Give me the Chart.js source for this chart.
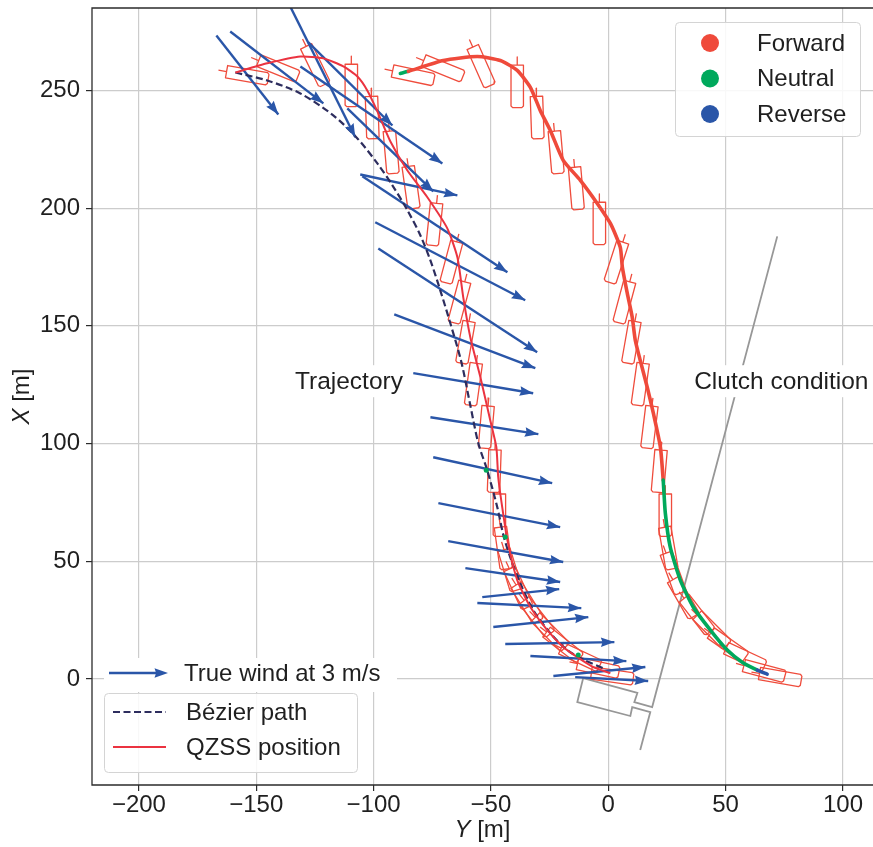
<!DOCTYPE html>
<html><head><meta charset="utf-8">
<script src="https://cdn.jsdelivr.net/npm/chart.js@4.4.1/dist/chart.umd.min.js"></script>
<style>html,body{margin:0;padding:0;background:#fff;overflow:hidden;}canvas{display:block;}</style>
</head><body>
<canvas id="c" width="873" height="847"></canvas>
<script>
// ---------- DATA (horizontal axis = Y [m], vertical axis = X [m]) ----------
const xTicks = [-200, -150, -100, -50, 0, 50, 100];
const yTicks = [0, 50, 100, 150, 200, 250];

// true wind arrows (start -> end)
const windFromY = [-136.8,-167.0,-161.1,-127.8,-131.2,-111.2,-105.7,-104.8,-99.3,-98.0,-91.2,-83.1,-75.8,-74.6,-72.4,-68.2,-60.9,-53.7,-55.8,-49.0,-43.9,-33.2,-23.4,-14.1];
const windFromX = [288.2,273.3,275.0,270.4,260.2,242.4,214.3,213.5,194.0,182.9,154.9,129.9,111.2,94.2,74.7,58.6,47.1,34.8,32.3,22.1,14.9,9.8,1.3,0.8];
const windToY   = [-107.8,-140.6,-121.4,-92.0,-70.7,-74.6,-64.3,-43.0,-35.4,-30.3,-31.1,-32.0,-29.8,-23.9,-20.5,-19.2,-20.5,-20.9,-11.5,-8.5,2.6,7.7,15.8,17.0];
const windToX   = [230.1,239.8,244.5,235.1,219.0,207.1,205.4,172.8,160.9,138.8,132.0,121.4,104.0,83.2,64.5,49.7,41.2,38.2,30.1,26.3,15.7,7.6,5.1,-0.8];

// Bezier path
const bezY = [-158.9,-145.3,-131.2,-117.2,-106.9,-98.4,-92.0,-85.6,-80.1,-75.8,-71.6,-67.3,-62.6,-58.8,-55.4,-51.6,-47.3,-44.7,-41.8,-37.5,-32.0,-24.7,-17.5,-11.1,-1.3];
const bezX = [257.6,254.2,248.7,239.4,229.6,219.0,209.7,199.1,188.5,177.8,165.1,151.1,134.6,116.3,100.2,88.7,73.0,61.1,51.8,40.7,29.3,19.5,12.3,8.5,4.2];

// QZSS position (trajectory run)
const qzY = [-158.9,-145.3,-131.2,-121.4,-112.9,-106.9,-102.7,-98.4,-92.9,-85.6,-77.1,-68.6,-64.3,-61.8,-58.8,-54.5,-50.3,-47.7,-46.9,-45.2,-43.0,-38.8,-33.2,-26.0,-19.2,-13.2,-6.4,0.9];
const qzX = [257.6,261.5,264.4,263.6,260.2,255.9,250.0,241.1,228.4,216.0,204.6,191.4,179.1,162.1,145.2,128.2,109.9,98.5,85.7,73.0,59.0,42.0,30.6,20.8,13.6,9.3,5.1,2.5];
// neutral samples on trajectory run
const nY = [-52.0,-43.9,-12.8];
const nX = [88.7,60.3,10.2];

// clutch condition run
const rtY = [-88.6,-85.2,-70.3,-55.8,-46.0,-38.8,-33.2,-29.0,-24.7,-19.2,-11.9,-4.7,0.9,5.1,6.0,8.1,10.2,11.5,13.6,16.6,19.2,22.2,23.4,24.3,26.4,30.7,36.2,43.5,50.7,57.5,63.5,67.7];
const rtX = [257.2,258.1,262.7,264.4,262.7,258.5,251.3,241.5,233.0,220.3,211.8,202.0,193.5,183.4,174.9,163.8,153.7,143.9,135.4,123.9,112.9,98.5,84.5,70.5,56.0,42.0,30.6,20.8,12.3,6.8,3.8,2.1];
const rtState = ['N','F','F','F','F','F','F','F','F','F','F','F','F','F','F','F','F','F','F','F','F','F','N','N','N','N','N','N','N','N','R','R'];

// boat poses: centre (Y, X) and heading psi [deg]
const boatY = [-153.8,-140.6,-124.8,-109.5,-100.6,-92.5,-84.0,-74.1,-66.9,-63.5,-60.9,-57.5,-52.0,-48.6,-46.4,-44.7,-41.8,-38.3,-34.5,-30.3,-24.7,-19.2,-11.9,-4.3,1.7,
               -83.1,-70.3,-54.1,-38.8,-30.3,-22.2,-13.6,-3.8,3.4,6.8,9.8,13.6,17.5,21.7,24.3,25.6,27.7,32.0,37.9,44.3,51.1,58.4,66.5,73.3];
const boatX = [256.4,259.3,260.6,252.1,238.5,223.7,208.8,193.1,177.0,160.0,143.0,125.2,107.0,88.3,69.6,55.6,46.3,38.6,32.3,26.3,19.9,14.4,9.3,4.7,1.3,
               256.4,259.3,260.2,251.7,238.5,223.7,208.4,193.5,177.0,160.0,143.0,125.2,107.0,88.3,69.6,55.6,45.0,34.4,27.2,20.8,14.4,9.3,3.4,0.8];
const boatPsi = [100,112,154,180,178,175,172,186,195,195,190,188,185,182,180,172,163,155,148,142,135,128,115,102,98,
                 102,112,156,180,178,175,175,180,198,195,190,188,187,185,180,170,160,150,142,135,125,115,105,100];

// pier / clutch condition line
const pierY = [72.0,18.7,11.1,12.4,-10.7,-13.2,9.4,10.2,17.9,13.6];
const pierX = [188.0,-11.9,-9.8,-5.9,0.4,-9.8,-15.7,-11.9,-14.0,-30.1];

const clutchLabels = ['Forward','Neutral','Reverse'];
const pathLabels = ['Bézier path','QZSS position'];
const windLabel = 'True wind at 3 m/s';

// ---------- STYLE ----------
const FONT = '"Liberation Sans", Arial, Helvetica, sans-serif';
const COL = {wind:'#2a56a8', bez:'#2d2d5e', qz:'#eb3340', fwd:'#ef4a3b', neu:'#00a95c', rev:'#2a56a8',
             boat:'#ef4c3c', pier:'#979797', grid:'#cccccc', text:'#1f1f1f', spine:'#2b2b2b'};
const STATE_COL = {F:COL.fwd, N:COL.neu, R:COL.rev};
const BOAT_L = 18, BOAT_W = 5.3, BOAT_CH = 0.7, BOAT_T = 3.5;

const pts = (ys, xs) => ys.map((v,i)=>({x:v, y:xs[i]}));

function boatOutline(yc, xc, psi){
  const r = psi*Math.PI/180, uy = Math.sin(r), ux = Math.cos(r);
  const sy = Math.cos(r), sx = -Math.sin(r);
  const hl = BOAT_L/2, hw = BOAT_W/2, ch = BOAT_CH;
  const P = (a,b)=>({x: yc + uy*a + sy*b, y: xc + ux*a + sx*b});
  return [P(-hl-BOAT_T,0), P(-hl,0), P(-hl,-hw), P(hl-ch,-hw), P(hl,-hw+ch), P(hl,hw-ch), P(hl-ch,hw), P(-hl,hw), P(-hl,0)];
}

const datasets = [];
datasets.push({label:'neutral', data:pts(nY,nX), showLine:false, pointRadius:2.5, pointBackgroundColor:COL.neu, pointBorderWidth:0, order:0});
datasets.push({label:'clutch', data:pts(rtY,rtX), showLine:true, borderWidth:3.6, borderColor:COL.fwd, tension:0.2,
  borderCapStyle:'round', pointRadius:0, segment:{borderColor: c => STATE_COL[rtState[c.p0DataIndex]]}, order:1});
datasets.push({label:'qzss', data:pts(qzY,qzX), showLine:true, borderWidth:2, borderColor:COL.qz, tension:0.2, pointRadius:0, order:2});
datasets.push({label:'bezier', data:pts(bezY,bezX), showLine:true, borderWidth:2.2, borderColor:COL.bez, borderDash:[7,3.5], tension:0.3, pointRadius:0, order:3});
for (let i=0;i<windFromY.length;i++){
  datasets.push({label:'wind'+i, data:[{x:windFromY[i],y:windFromX[i]},{x:windToY[i],y:windToX[i]}], showLine:true,
    borderWidth:2.4, borderColor:COL.wind, pointRadius:0, order:4});
}
datasets.push({label:'qzss2', data:pts(rtY,rtX), showLine:true, borderWidth:1.8, borderColor:COL.qz, tension:0.2, pointRadius:0, order:5});
for (let i=0;i<boatY.length;i++){
  datasets.push({label:'boat'+i, data:boatOutline(boatY[i],boatX[i],boatPsi[i]), showLine:true, borderWidth:1.3,
    borderColor:COL.boat, pointRadius:0, tension:0, borderJoinStyle:'round', order:6});
}
datasets.push({label:'pier', data:pts(pierY,pierX), showLine:true, borderWidth:1.8, borderColor:COL.pier, pointRadius:0, tension:0, order:7});

function fmt(v){ return v<0 ? '\u2212'+Math.abs(v) : String(v); }

function head(ctx,x0,y0,x1,y1,len,hw){
  const dx=x1-x0, dy=y1-y0, d=Math.hypot(dx,dy), ux=dx/d, uy=dy/d;
  const bx=x1-ux*len, by=y1-uy*len, nx=x1-ux*len*0.88, ny=y1-uy*len*0.88;
  ctx.beginPath(); ctx.moveTo(x1,y1); ctx.lineTo(bx-uy*hw, by+ux*hw); ctx.lineTo(nx,ny); ctx.lineTo(bx+uy*hw, by-ux*hw); ctx.closePath(); ctx.fill();
}
function rrect(ctx,x,y,w,h,r){
  ctx.beginPath(); ctx.moveTo(x+r,y); ctx.arcTo(x+w,y,x+w,y+h,r); ctx.arcTo(x+w,y+h,x,y+h,r);
  ctx.arcTo(x,y+h,x,y,r); ctx.arcTo(x,y,x+w,y,r); ctx.closePath();
}

const extras = {
  id:'extras',
  beforeDraw(chart){ const c=chart.ctx; c.save(); c.fillStyle='#fff'; c.fillRect(0,0,chart.width,chart.height); c.restore(); },
  afterDatasetsDraw(chart){
    const ctx=chart.ctx, a=chart.chartArea, sx=chart.scales.x, sy=chart.scales.y;
    ctx.save();
    ctx.beginPath(); ctx.rect(a.left,a.top,a.right-a.left,a.bottom-a.top); ctx.clip();
    ctx.fillStyle=COL.wind;
    for (let i=0;i<windFromY.length;i++){
      head(ctx, sx.getPixelForValue(windFromY[i]), sy.getPixelForValue(windFromX[i]),
                sx.getPixelForValue(windToY[i]), sy.getPixelForValue(windToX[i]), 13.5, 4.8);
    }
    ctx.restore();

    ctx.save();
    ctx.font='24.5px '+FONT; ctx.textBaseline='middle'; ctx.fillStyle=COL.text;
    const ty = sy.getPixelForValue(126.5);
    let tx = sx.getPixelForValue(-87.5);
    let w = ctx.measureText('Trajectory').width;
    ctx.fillStyle='#fff'; ctx.fillRect(tx-w-8, ty-16, w+14, 32);
    ctx.fillStyle=COL.text; ctx.textAlign='right'; ctx.fillText('Trajectory', tx, ty+1);
    tx = sx.getPixelForValue(36.6);
    w = ctx.measureText('Clutch condition').width;
    ctx.fillStyle='#fff'; ctx.fillRect(tx-8, ty-16, w+16, 32);
    ctx.fillStyle=COL.text; ctx.textAlign='left'; ctx.fillText('Clutch condition', tx, ty+1);

    ctx.font='24px '+FONT;
    ctx.fillStyle='rgba(255,255,255,0.85)'; ctx.strokeStyle='#d4d4d4'; ctx.lineWidth=1;
    rrect(ctx,675.5,22.5,185,114,4); ctx.fill(); ctx.stroke();
    const lc=[COL.fwd,COL.neu,COL.rev];
    for (let i=0;i<3;i++){
      const yy=43+i*35.5;
      ctx.fillStyle=lc[i]; ctx.beginPath(); ctx.arc(710,yy,9,0,Math.PI*2); ctx.fill();
      ctx.fillStyle=COL.text; ctx.textAlign='left'; ctx.fillText(clutchLabels[i],757,yy+1);
    }

    ctx.fillStyle='#fff'; ctx.fillRect(104,658,293,34);
    ctx.strokeStyle=COL.wind; ctx.lineWidth=2.4; ctx.beginPath(); ctx.moveTo(109,673); ctx.lineTo(160,673); ctx.stroke();
    ctx.fillStyle=COL.wind; head(ctx,109,673,168,673,13.5,4.8);
    ctx.fillStyle=COL.text; ctx.fillText(windLabel,184,674);

    ctx.fillStyle='rgba(255,255,255,0.85)'; ctx.strokeStyle='#d4d4d4'; ctx.lineWidth=1;
    rrect(ctx,104.5,693.5,253,79,4); ctx.fill(); ctx.stroke();
    ctx.lineWidth=2.2; ctx.strokeStyle=COL.bez; ctx.setLineDash([7,3.5]);
    ctx.beginPath(); ctx.moveTo(113,712); ctx.lineTo(166,712); ctx.stroke(); ctx.setLineDash([]);
    ctx.strokeStyle=COL.qz; ctx.lineWidth=2;
    ctx.beginPath(); ctx.moveTo(113,747); ctx.lineTo(166,747); ctx.stroke();
    ctx.fillStyle=COL.text; ctx.fillText(pathLabels[0],186,713); ctx.fillText(pathLabels[1],186,748);

    // spines: left, top, bottom (right spine lies just outside the picture)
    ctx.strokeStyle=COL.spine; ctx.lineWidth=1.3;
    ctx.beginPath();
    ctx.moveTo(a.right, a.top); ctx.lineTo(a.left, a.top); ctx.lineTo(a.left, a.bottom); ctx.lineTo(a.right, a.bottom);
    ctx.stroke();
    ctx.restore();
  },
  afterDraw(chart){
    const ctx=chart.ctx, a=chart.chartArea;
    const parts=[['Y','italic 24px '+FONT],[' [m]','24px '+FONT]];
    function mixed(cx,cy,rot){
      ctx.save(); ctx.translate(cx,cy); ctx.rotate(rot);
      ctx.fillStyle=COL.text; ctx.textBaseline='middle'; ctx.textAlign='left';
      let tot=0; const ws=parts.map(p=>{ctx.font=p[1]; const w=ctx.measureText(p[0]).width; tot+=w; return w;});
      let x=-tot/2; parts.forEach((p,i)=>{ctx.font=p[1]; ctx.fillText(p[0],x,0); x+=ws[i];});
      ctx.restore();
    }
    mixed((a.left+a.right)/2, 830, 0);
    parts[0][0]='X';
    mixed(22,(a.top+a.bottom)/2,-Math.PI/2);
  }
};

const noPad = s => { s.paddingTop=0; s.paddingBottom=0; s.paddingLeft=0; s.paddingRight=0; };

new Chart(document.getElementById('c'), {
  type:'scatter',
  data:{datasets},
  options:{
    responsive:false, animation:false, devicePixelRatio:1,
    layout:{autoPadding:false, padding:{top:8,left:0,right:0,bottom:0}},
    plugins:{legend:{display:false}, tooltip:{enabled:false}},
    scales:{
      x:{type:'linear', min:-220, max:112.8,
        afterBuildTicks:s=>{s.ticks=xTicks.map(v=>({value:v}));},
        afterFit:s=>{s.height=62; noPad(s);},
        grid:{color:COL.grid, lineWidth:1.2, tickLength:6, tickColor:COL.spine, tickWidth:1.2},
        border:{display:false},
        ticks:{font:{family:FONT,size:24,lineHeight:1}, color:COL.text, padding:2, maxRotation:0, autoSkip:false, callback:v=>fmt(v)}},
      y:{type:'linear', min:-45, max:285,
        afterBuildTicks:s=>{s.ticks=yTicks.map(v=>({value:v}));},
        afterFit:s=>{s.width=92; noPad(s);},
        grid:{color:COL.grid, lineWidth:1.2, tickLength:6, tickColor:COL.spine, tickWidth:1.2},
        border:{display:false},
        ticks:{font:{family:FONT,size:24,lineHeight:1}, color:COL.text, padding:6, autoSkip:false, callback:v=>fmt(v)}}
    }
  },
  plugins:[extras]
});
</script>
</body></html>
